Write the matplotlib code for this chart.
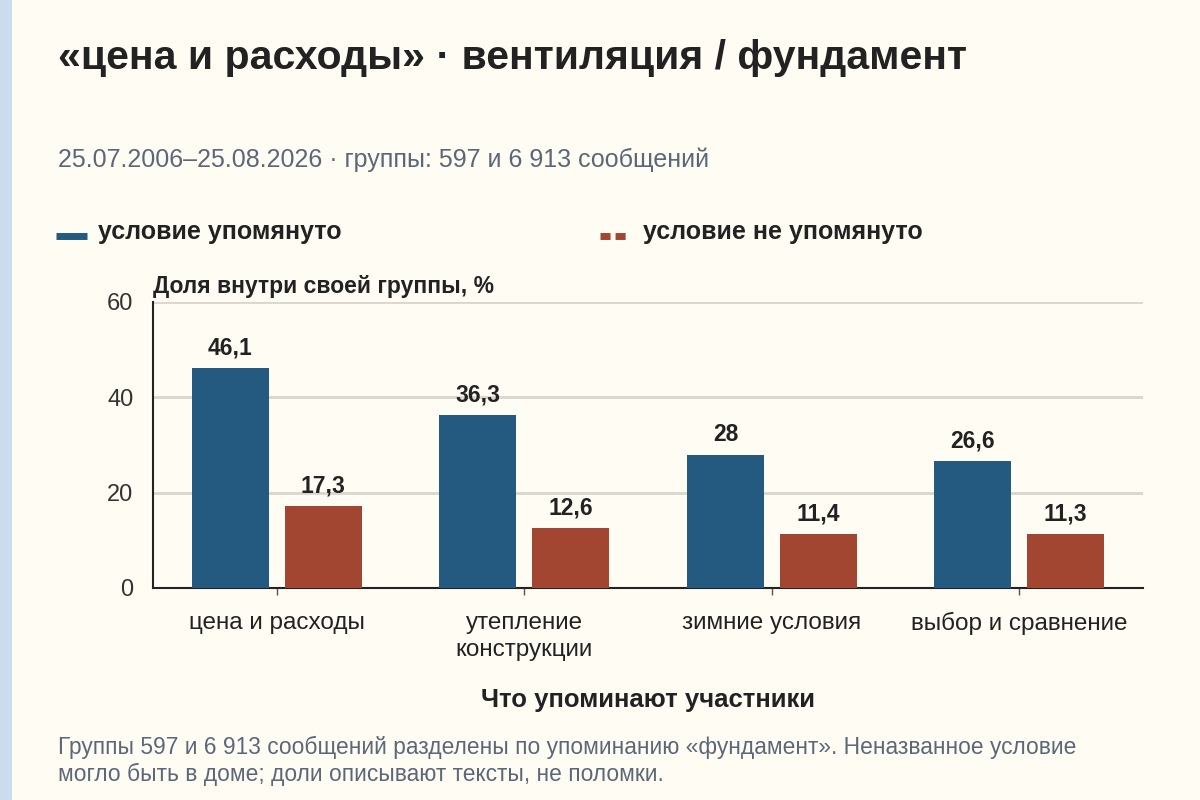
import numpy as np
import matplotlib
matplotlib.use("Agg")
import matplotlib.pyplot as plt
from matplotlib.lines import Line2D
from matplotlib.patches import Rectangle

plt.rcParams["font.family"] = ["Liberation Sans", "DejaVu Sans"]

# data
categories = ["цена и расходы", "утепление\nконструкции", "зимние условия", "выбор и сравнение"]
mentioned = [46.1, 36.3, 28.0, 26.6]
not_mentioned = [17.3, 12.6, 11.4, 11.3]
series_names = ["условие упомянуто", "условие не упомянуто"]
y_ticks = [0, 20, 40, 60]

BG = "#FFFCF4"
BLUE = "#245A80"
RED = "#A24632"
INK = "#222222"
SLATE = "#5A6878"


def fmt(v):
    if float(v).is_integer():
        return str(int(v))
    return f"{v:.1f}".replace(".", ",")


fig = plt.figure(figsize=(12, 8), dpi=100, facecolor=BG)
fig.add_artist(Rectangle((0, 0), 12 / 1200, 1, transform=fig.transFigure,
                         facecolor="#C9DDEE", edgecolor="none"))

ax = fig.add_axes([153 / 1200, 1 - 588 / 800, 990 / 1200, 286 / 800])
ax.set_facecolor(BG)

x = np.arange(len(categories))
w = 0.311
off = 0.187
bars1 = ax.bar(x - off, mentioned, w, color=BLUE, zorder=3)
bars2 = ax.bar(x + off, not_mentioned, w, color=RED, zorder=3)

for bars, vals in ((bars1, mentioned), (bars2, not_mentioned)):
    for b, v in zip(bars, vals):
        ax.annotate(fmt(v), (b.get_x() + b.get_width() / 2, v), xytext=(0, 6),
                    textcoords="offset points", ha="center", va="bottom",
                    fontsize=16.5, fontweight="bold", color=INK)

ax.set_xlim(-0.5, len(categories) - 0.5)
ax.set_ylim(0, 60)
ax.set_yticks(y_ticks)
ax.set_yticklabels([str(t) for t in y_ticks], fontsize=17, color="#333333")
ax.tick_params(axis="y", length=0, pad=14)
ax.set_xticks(x)
ax.set_xticklabels(categories, fontsize=17.5, color=INK, linespacing=1.3)
ax.tick_params(axis="x", length=5, width=1, color="#555555", pad=12)
ax.grid(axis="y", color="#DAD6CD", linewidth=2, zorder=0)
for s in ("top", "right"):
    ax.spines[s].set_visible(False)
ax.spines["left"].set_color(INK)
ax.spines["bottom"].set_color(INK)
ax.spines["left"].set_linewidth(1.5)
ax.spines["bottom"].set_linewidth(1.5)

fig.text(648 / 1200, 1 - 700 / 800, "Что упоминают участники", fontsize=18.5,
         fontweight="bold", color=INK, ha="center", va="center")

fig.text(58 / 1200, 1 - 58 / 800, "«цена и расходы» · вентиляция / фундамент",
         fontsize=29.5, fontweight="bold", color=INK, va="center")
fig.text(58 / 1200, 1 - 160 / 800,
         "25.07.2006–25.08.2026 · группы: 597 и 6 913 сообщений",
         fontsize=18, color=SLATE, va="center")

# legend
fig.add_artist(Line2D([56 / 1200, 87 / 1200], [1 - 236 / 800] * 2,
                      color=BLUE, linewidth=5, solid_capstyle="butt",
                      transform=fig.transFigure))
fig.text(98 / 1200, 1 - 232 / 800, series_names[0], fontsize=18,
         fontweight="bold", color=INK, va="center")
fig.add_artist(Line2D([600 / 1200, 630 / 1200], [1 - 236 / 800] * 2,
                      color=RED, linewidth=5, linestyle=(0, (1.45, 0.72)),
                      dash_capstyle="butt", transform=fig.transFigure))
fig.text(643 / 1200, 1 - 232 / 800, series_names[1], fontsize=18,
         fontweight="bold", color=INK, va="center")

fig.text(153 / 1200, 1 - 286 / 800, "Доля внутри своей группы, %",
         fontsize=16.5, fontweight="bold", color=INK, va="center")

fig.text(58 / 1200, 1 - 761 / 800,
         "Группы 597 и 6 913 сообщений разделены по упоминанию «фундамент». Неназванное условие\n"
         "могло быть в доме; доли описывают тексты, не поломки.",
         fontsize=16.4, color=SLATE, va="center", linespacing=1.2)

fig.savefig("out.png", dpi=100, facecolor=BG)
